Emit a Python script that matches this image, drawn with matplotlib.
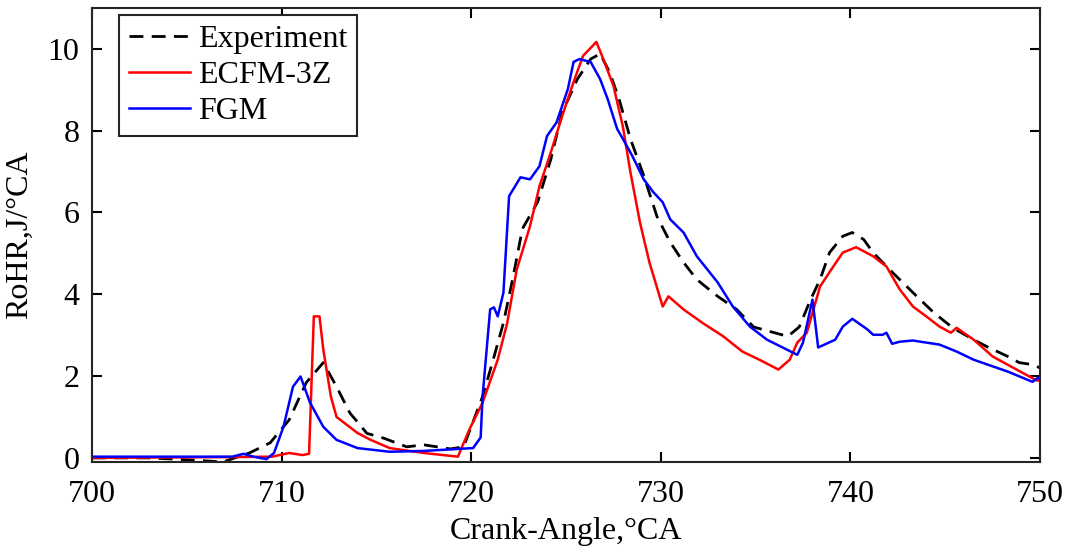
import matplotlib
matplotlib.use("Agg")
import matplotlib.pyplot as plt

# Experiment (black dashed)
exp_x = [700, 703, 705.2, 706.9, 708.3, 709.4, 710.4, 711.3, 712.2, 712.9, 713.6, 714.5, 715.4,
         716.6, 717.5, 718.9, 719.6, 720.6, 721.1, 721.7, 722.2, 722.7, 723.5, 724.2, 724.8,
         725.6, 726.3, 726.8, 727.3, 727.8, 728.4, 729.1, 729.8, 730.5, 731.2, 731.9, 733.0,
         734.0, 734.9, 736.7, 737.3, 737.9, 738.4, 738.9, 739.6, 740.1, 740.7, 741.2, 741.9,
         742.6, 743.5, 744.4, 745.4, 746.5, 747.2, 748.3, 748.9, 749.6, 750]
exp_y = [0.0, 0.0, -0.05, -0.1, 0.12, 0.37, 0.93, 1.84, 2.33, 1.74, 1.1, 0.6, 0.48,
         0.27, 0.32, 0.22, 0.27, 1.5, 2.3, 3.3, 4.4, 5.6, 6.25, 7.3, 8.45,
         9.26, 9.75, 9.88, 9.43, 8.77, 7.8, 6.9, 5.9, 5.27, 4.78, 4.36, 3.95,
         3.63, 3.2, 2.97, 3.2, 3.87, 4.36, 5.02, 5.42, 5.51, 5.34, 5.02, 4.68,
         4.36, 3.95, 3.55, 3.18, 2.89, 2.72, 2.48, 2.33, 2.28, 2.2]

# ECFM-3Z (red)
ecfm_x = [700, 707.4, 709.5, 710.4, 711.1, 711.45, 711.7, 712.0, 712.2, 712.6, 712.9, 714.0,
          714.7, 715.7, 717.5, 719.3, 719.9, 720.6, 721.4, 721.9, 722.4, 723.1, 723.6,
          724.2, 724.8, 725.4, 725.9, 726.4, 726.6, 726.9, 727.5, 728.0, 728.4, 728.9,
          729.4, 730.1, 730.4, 731.2, 732.2, 733.3, 734.3, 735.2, 736.2, 736.8, 737.2,
          737.7, 738.4, 739.1, 739.6, 740.3, 741.2, 741.9, 742.6, 743.3, 744.0, 744.7,
          745.3, 745.6, 746.5, 747.5, 748.6, 749.8, 750]
ecfm_y = [0.0, 0.02, 0.03, 0.12, 0.07, 0.1, 3.46, 3.46, 2.65, 1.5, 1.0, 0.61,
          0.44, 0.24, 0.12, 0.03, 0.69, 1.35, 2.4, 3.3, 4.6, 5.66, 6.64,
          7.47, 8.36, 9.19, 9.83, 10.07, 10.17, 9.83, 9.1, 8.1, 6.98, 5.76,
          4.78, 3.7, 3.95, 3.63, 3.3, 2.97, 2.6, 2.4, 2.16, 2.4, 2.82,
          3.06, 4.19, 4.68, 5.02, 5.15, 4.93, 4.68, 4.12, 3.7, 3.46, 3.21,
          3.06, 3.18, 2.89, 2.48, 2.2, 1.9, 1.88]

# FGM (blue)
fgm_x = [700, 707.4, 708.0, 708.5, 709.2, 709.6, 710.1, 710.6, 711.0, 711.5, 712.2, 712.9,
         714.0, 715.7, 717.5, 720.1, 720.5, 720.6, 721.0, 721.2, 721.4, 721.7, 722.0,
         722.6, 723.1, 723.6, 724.0, 724.5, 725.1, 725.4, 725.7, 726.3, 726.8, 727.2,
         727.7, 728.0, 728.5, 729.1, 729.6, 730.1, 730.5, 731.2, 731.9, 733.0, 733.8,
         734.7, 735.6, 737.2, 737.5, 738.0, 738.3, 739.2, 739.6, 740.1, 740.9, 741.2,
         741.7, 741.9, 742.2, 742.6, 743.3, 743.7, 744.7, 745.6, 746.5, 748.3, 749.6,
         749.9, 750]
fgm_y = [0.03, 0.03, 0.1, 0.03, -0.03, 0.12, 0.76, 1.74, 1.99, 1.35, 0.76, 0.44,
         0.24, 0.15, 0.17, 0.24, 0.5, 1.5, 3.63, 3.68, 3.46, 4.04, 6.4,
         6.86, 6.81, 7.13, 7.87, 8.2, 9.02, 9.68, 9.75, 9.68, 9.26, 8.77,
         8.04, 7.8, 7.38, 6.81, 6.5, 6.25, 5.83, 5.51, 4.93, 4.29, 3.7,
         3.21, 2.89, 2.52, 2.82, 3.87, 2.7, 2.89, 3.21, 3.4, 3.14, 3.01,
         3.01, 3.06, 2.79, 2.84, 2.87, 2.84, 2.77, 2.6, 2.4, 2.11, 1.86,
         1.96, 1.92]

plt.rcParams['font.family'] = ['Liberation Serif', 'DejaVu Serif']
plt.rcParams['font.size'] = 23

fig = plt.figure(figsize=(10.67, 5.49), dpi=100)
ax = fig.add_axes([0.0862, 0.1585, 0.8885, 0.827])

ax.plot(exp_x, exp_y, color="black", linestyle=(0, (5, 3)), linewidth=2, label="Experiment")
ax.plot(ecfm_x, ecfm_y, color="red", linewidth=1.8, label="ECFM-3Z")
ax.plot(fgm_x, fgm_y, color="blue", linewidth=1.8, label="FGM")

ax.set_xlim(700, 750)
ax.set_ylim(-0.1, 11)
ax.set_xticks([700, 710, 720, 730, 740, 750])
ax.set_yticks([0, 2, 4, 6, 8, 10])
ax.tick_params(direction="in", top=True, right=True, length=7, width=1.5, pad=9)
ax.tick_params(axis="x", pad=13)
for s in ax.spines.values():
    s.set_linewidth(1.5)
    s.set_color("#262626")

ax.set_xlabel("Crank-Angle,°CA", labelpad=6)
ax.set_ylabel("RoHR,J/°CA", labelpad=10)

leg = ax.legend(loc="upper left", bbox_to_anchor=(0.029, 0.985), fancybox=False,
                edgecolor="#262626", framealpha=1, handlelength=1.9,
                handletextpad=0.25, borderpad=0.3, labelspacing=0.22, borderaxespad=0)
leg.get_frame().set_linewidth(1.5)

fig.savefig("out.png", dpi=100)
